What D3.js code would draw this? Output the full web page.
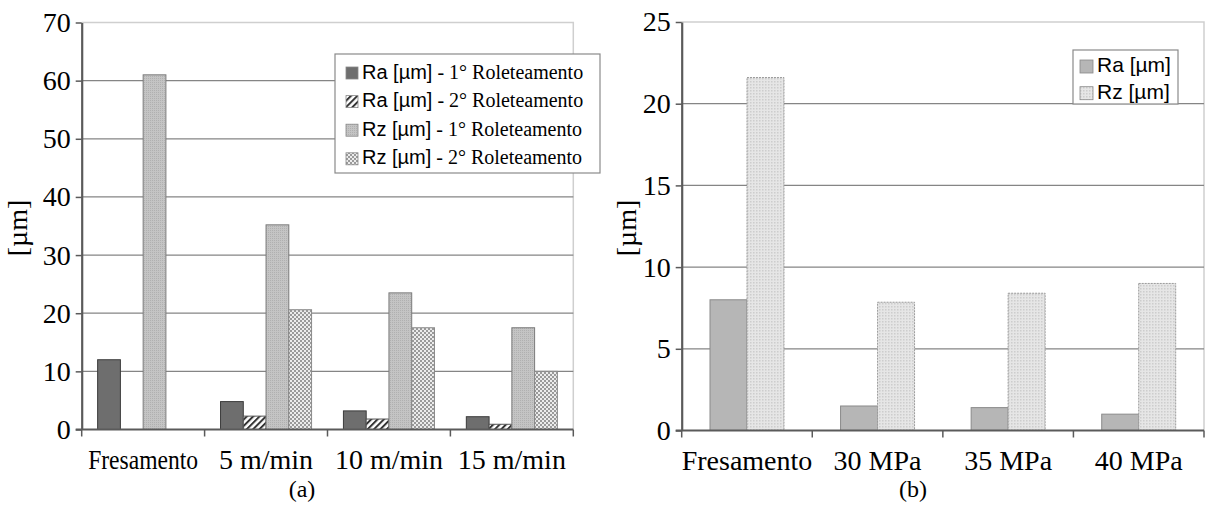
<!DOCTYPE html>
<html>
<head>
<meta charset="utf-8">
<script src="https://cdn.jsdelivr.net/npm/d3@7"></script>
<style>
  body { margin: 0; background: #fff; }
  svg { display: block; }
</style>
</head>
<body>
<div id="chart-area"></div>
<script>
// (a) roughness vs speed
const catsA = ["Fresamento", "5 m/min", "10 m/min", "15 m/min"]
const raA1 = [12, 4.8, 3.2, 2.2]
const raA2 = [null, 2.3, 1.8, 0.9]
const rzA1 = [61, 35.2, 23.5, 17.5]
const rzA2 = [null, 20.6, 17.5, 10]
const ticksA = [0, 10, 20, 30, 40, 50, 60, 70]
const legendA = [
  ["Ra [µm]", " - 1° Roleteamento"],
  ["Ra [µm]", " - 2° Roleteamento"],
  ["Rz [µm]", " - 1° Roleteamento"],
  ["Rz [µm]", " - 2° Roleteamento"]
]

// (b) roughness vs pressure
const catsB = ["Fresamento", "30 MPa", "35 MPa", "40 MPa"]
const raB = [8.0, 1.5, 1.4, 1.0]
const rzB = [21.6, 7.85, 8.4, 9.0]
const ticksB = [0, 5, 10, 15, 20, 25]
const legendB = [["Ra [µm]", ""], ["Rz [µm]", ""]]

const SERIF = "'Liberation Serif', 'Times New Roman', serif"
const SANS = "'Liberation Sans', Arial, sans-serif"

const svg = d3.select("#chart-area").append("svg")
  .attr("width", 1206)
  .attr("height", 506)

// fills
const defs = svg.append("defs")

const hatch = defs.append("pattern")
  .attr("id", "hatch")
  .attr("patternUnits", "userSpaceOnUse")
  .attr("width", 4.5).attr("height", 4.5)
  .attr("patternTransform", "rotate(45)")
hatch.append("rect").attr("width", 4.5).attr("height", 4.5).attr("fill", "#fff")
hatch.append("line")
  .attr("x1", 1).attr("y1", 0).attr("x2", 1).attr("y2", 4.5)
  .attr("stroke", "#333").attr("stroke-width", 2)

const fine = defs.append("pattern")
  .attr("id", "fine")
  .attr("patternUnits", "userSpaceOnUse")
  .attr("width", 2).attr("height", 2)
fine.append("rect").attr("width", 2).attr("height", 2).attr("fill", "#c4c4c4")
fine.append("rect").attr("width", 1).attr("height", 1).attr("fill", "#b0b0b0")

const checker = defs.append("pattern")
  .attr("id", "checker")
  .attr("patternUnits", "userSpaceOnUse")
  .attr("width", 4).attr("height", 4)
checker.append("rect").attr("width", 4).attr("height", 4).attr("fill", "#ececec")
checker.append("rect").attr("width", 2).attr("height", 2).attr("fill", "#9a9a9a")
checker.append("rect").attr("x", 2).attr("y", 2).attr("width", 2).attr("height", 2).attr("fill", "#9a9a9a")

const dots = defs.append("pattern")
  .attr("id", "dots")
  .attr("patternUnits", "userSpaceOnUse")
  .attr("width", 3).attr("height", 3)
dots.append("rect").attr("width", 3).attr("height", 3).attr("fill", "#e6e6e6")
dots.append("rect").attr("width", 1.5).attr("height", 1.5).attr("fill", "#cdcdcd")

const drawChart = (cfg) => {
  const g = svg.append("g")

  const x0 = d3.scaleBand()
    .domain(cfg.cats)
    .range([cfg.left, cfg.right])

  const x1 = d3.scaleBand()
    .domain(d3.range(cfg.series.length))
    .range([0, x0.bandwidth()])
    .paddingOuter(cfg.outer)

  const y = d3.scaleLinear()
    .domain([0, cfg.ticks[cfg.ticks.length - 1]])
    .range([cfg.bottom, cfg.top])

  // plot frame (top and right, light)
  g.append("path")
    .attr("d", `M${cfg.left},${cfg.top}H${cfg.right}V${cfg.bottom}`)
    .attr("fill", "none")
    .attr("stroke", "#cfcfcf")
    .attr("stroke-width", 1.5)

  // gridlines
  g.selectAll(".grid")
    .data(cfg.ticks.slice(1, -1))
    .enter().append("line")
    .attr("class", "grid")
    .attr("x1", cfg.left).attr("x2", cfg.right)
    .attr("y1", d => y(d)).attr("y2", d => y(d))
    .attr("stroke", "#858585")
    .attr("stroke-width", 1.3)

  // bars
  cfg.series.forEach((s, i) => {
    g.selectAll(".bar" + i)
      .data(cfg.cats.map((c, j) => ({ c: c, v: s.values[j] })).filter(d => d.v != null))
      .enter().append("rect")
      .attr("x", d => x0(d.c) + x1(i))
      .attr("width", x1.bandwidth())
      .attr("y", d => y(d.v))
      .attr("height", d => y(0) - y(d.v))
      .attr("fill", s.fill)
      .attr("stroke", s.stroke)
      .attr("stroke-width", 1)
      .attr("stroke-dasharray", s.dash || null)
  })

  // y axis
  const yAxis = g.append("g")
    .attr("transform", `translate(${cfg.left}, 0)`)
    .call(d3.axisLeft(y).tickValues(cfg.ticks).tickSize(6).tickPadding(5).tickSizeOuter(0))
  yAxis.select(".domain").attr("stroke", "#5a5a5a").attr("stroke-width", 2.2)
  yAxis.selectAll(".tick line").attr("stroke", "#5a5a5a").attr("stroke-width", 1.5)
  yAxis.selectAll(".tick text")
    .attr("font-family", SERIF)
    .attr("font-size", "28px")
    .attr("fill", "#000")

  // x axis (ticks at band edges)
  const xg = g.append("g")
  xg.append("line")
    .attr("x1", cfg.left - 6).attr("x2", cfg.right)
    .attr("y1", y(0)).attr("y2", y(0))
    .attr("stroke", "#5a5a5a").attr("stroke-width", 2.2)
  xg.selectAll(".xt")
    .data(cfg.cats.map(c => x0(c)).concat([cfg.right]))
    .enter().append("line")
    .attr("x1", d => d).attr("x2", d => d)
    .attr("y1", y(0)).attr("y2", y(0) + 7)
    .attr("stroke", "#5a5a5a").attr("stroke-width", 1.5)
  xg.selectAll(".xl")
    .data(cfg.cats)
    .enter().append("text")
    .attr("x", d => x0(d) + x0.bandwidth() / 2)
    .attr("y", y(0) + 39)
    .attr("text-anchor", "middle")
    .attr("font-family", SERIF)
    .attr("font-size", "28px")
    .attr("fill", "#000")
    .text(d => d)
    .each(function () {
      if (this.getComputedTextLength() > cfg.labelMax) {
        d3.select(this)
          .attr("textLength", cfg.labelMax)
          .attr("lengthAdjust", "spacingAndGlyphs")
      }
    })

  // y label
  g.append("text")
    .attr("transform", `translate(${cfg.ylabelX}, ${cfg.ylabelY}) rotate(-90)`)
    .attr("text-anchor", "middle")
    .attr("dy", "0.35em")
    .attr("font-family", SERIF)
    .attr("font-size", "28px")
    .attr("fill", "#000")
    .text("[µm]")

  // panel caption
  g.append("text")
    .attr("x", cfg.capX)
    .attr("y", 497)
    .attr("text-anchor", "middle")
    .attr("font-family", SERIF)
    .attr("font-size", "24px")
    .attr("fill", "#000")
    .text(cfg.caption)

  // legend
  const lg = g.append("g")
  lg.append("rect")
    .attr("x", cfg.leg.x).attr("y", cfg.leg.y)
    .attr("width", cfg.leg.w).attr("height", cfg.leg.h)
    .attr("fill", "#fff")
    .attr("stroke", "#8a8a8a")
    .attr("stroke-width", 1.2)
  cfg.legend.forEach((l, i) => {
    const cy = cfg.leg.y + cfg.leg.first + i * cfg.leg.step
    lg.append("rect")
      .attr("x", cfg.leg.x + cfg.leg.sx)
      .attr("y", cy - cfg.leg.sw / 2)
      .attr("width", cfg.leg.sw).attr("height", cfg.leg.sw)
      .attr("fill", cfg.series[i].fill)
      .attr("stroke", "#888")
      .attr("stroke-width", 0.8)
    const t = lg.append("text")
      .attr("x", cfg.leg.x + cfg.leg.tx)
      .attr("y", cy)
      .attr("dy", "0.35em")
      .attr("fill", "#000")
    t.append("tspan")
      .attr("font-family", SANS)
      .attr("font-size", cfg.leg.fs + "px")
      .text(l[0])
    if (l[1]) {
      t.append("tspan")
        .attr("font-family", SERIF)
        .attr("font-size", "20px")
        .text(l[1])
    }
  })
}

drawChart({
  cats: catsA,
  series: [
    { values: raA1, fill: "#6e6e6e", stroke: "#3c3c3c" },
    { values: raA2, fill: "url(#hatch)", stroke: "#555" },
    { values: rzA1, fill: "url(#fine)", stroke: "#7a7a7a" },
    { values: rzA2, fill: "url(#checker)", stroke: "#8a8a8a" }
  ],
  ticks: ticksA,
  left: 81.7, right: 573.3, top: 22.5, bottom: 429.5,
  outer: 0.7,
  labelMax: 110,
  ylabelX: 17, ylabelY: 228,
  capX: 302, caption: "(a)",
  legend: legendA,
  leg: { x: 335, y: 54, w: 265, h: 119, first: 19, step: 28.6, sx: 11, sw: 12, tx: 27, fs: 20 }
})

drawChart({
  cats: catsB,
  series: [
    { values: raB, fill: "#b6b6b6", stroke: "#8a8a8a" },
    { values: rzB, fill: "url(#dots)", stroke: "#9a9a9a", dash: "2,1" }
  ],
  ticks: ticksB,
  left: 681.7, right: 1204, top: 22, bottom: 430.5,
  outer: 0.765,
  labelMax: 200,
  ylabelX: 626, ylabelY: 228,
  capX: 913, caption: "(b)",
  legend: legendB,
  leg: { x: 1073, y: 50, w: 105, h: 54, first: 16.5, step: 26.7, sx: 7, sw: 13, tx: 24, fs: 21 }
})
</script>
</body>
</html>
